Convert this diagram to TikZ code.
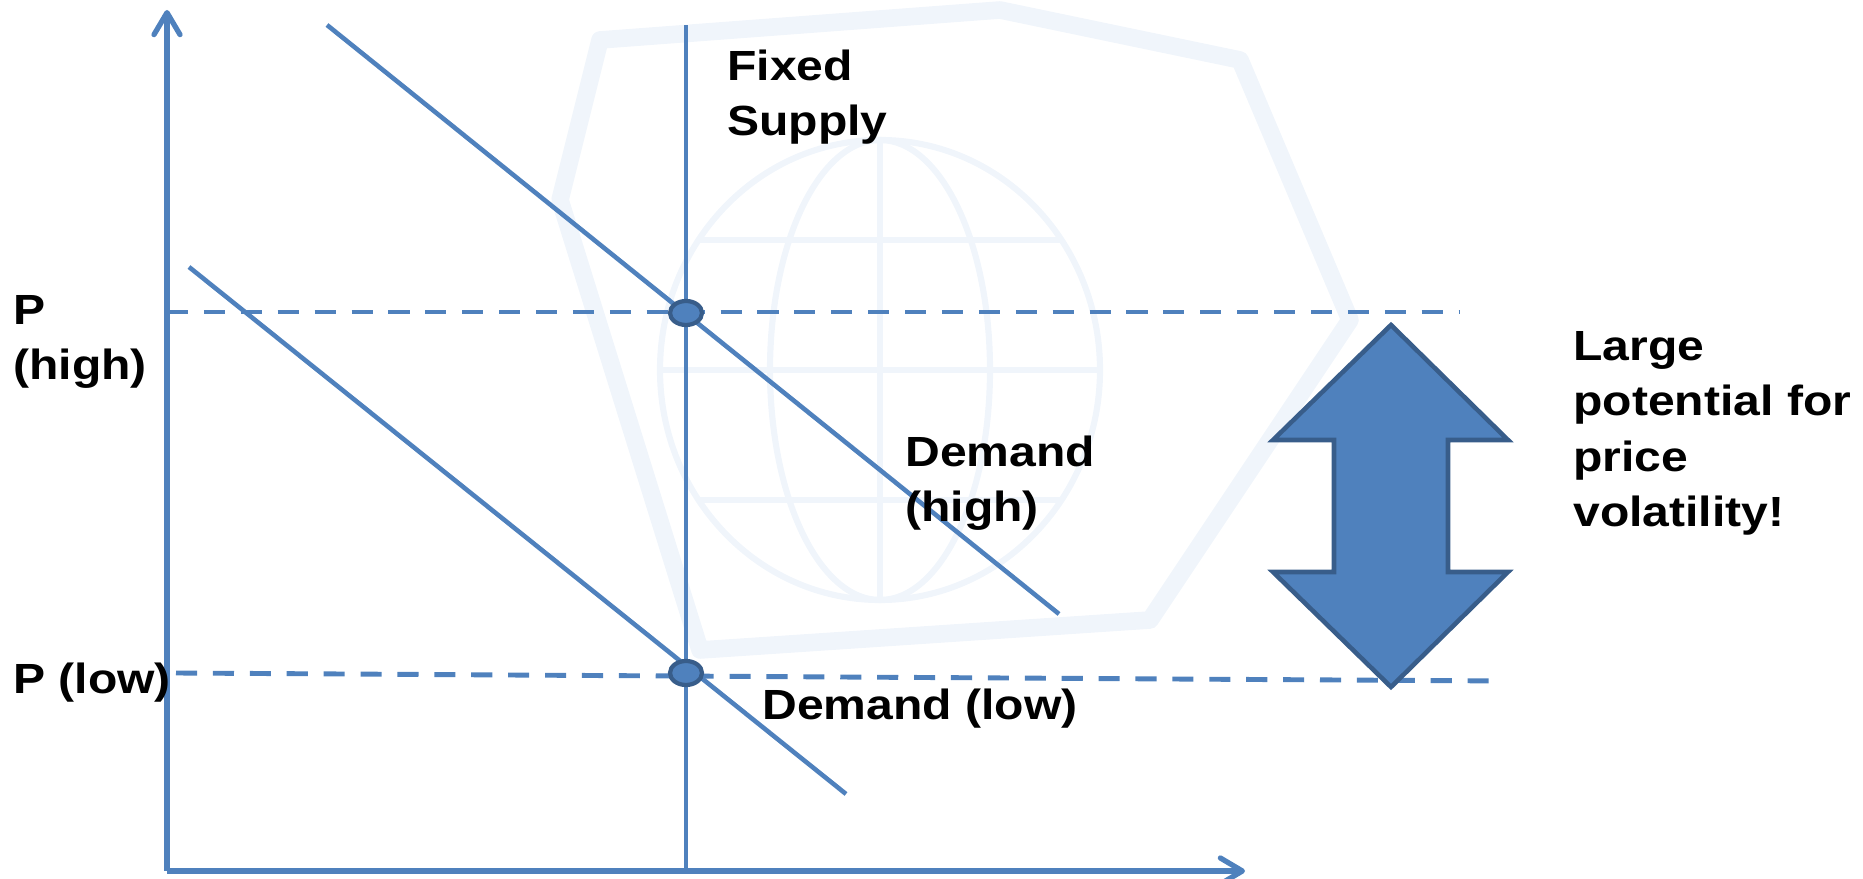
\documentclass[tikz,border=0pt]{standalone}
\usepackage{fontspec}
\setmainfont[FakeStretch=1.14]{Liberation Sans}
\usepackage{xcolor}
\usetikzlibrary{arrows.meta,shapes.geometric}
\definecolor{lineblue}{RGB}{79,129,189}
\definecolor{darkblue}{RGB}{56,93,138}
\definecolor{faint}{RGB}{240,245,251}
\tikzstyle{curve} = [lineblue, line width=2.6pt]
\tikzstyle{axis} = [lineblue, line width=3pt, -{Straight Barb[length=4.4mm,width=5.2mm,line cap=round,line join=round]}]
\tikzstyle{level} = [lineblue, line width=2.8pt, dash pattern=on 12pt off 9pt]
\tikzstyle{point} = [ellipse, draw=darkblue, fill=lineblue, line width=2.4pt, minimum width=0.64cm, minimum height=0.48cm, inner sep=0]
\tikzstyle{label} = [inner sep=0, anchor=base west, align=left, font=\fontsize{24}{31.6}\selectfont\bfseries]

\begin{document}
\begin{tikzpicture}
\useasboundingbox (0,0) rectangle (37.26,17.58);

% faint globe in the background
\draw[faint, line width=10pt, line join=round] (12.0,16.78) -- (20.0,17.38) -- (24.8,16.38) -- (27.0,11.18) -- (23.0,5.18) -- (14.0,4.58) -- (11.2,13.58) -- cycle;
\draw[faint, line width=3.5pt] (17.6,10.18) ellipse (4.4 and 4.6);
\draw[faint, line width=3.5pt] (17.6,10.18) ellipse (2.2 and 4.6);
\draw[faint, line width=3.5pt] (17.6,5.58) -- (17.6,14.78);
\begin{scope}
\clip (17.6,10.18) ellipse (4.4 and 4.6);
\foreach \y in {-2.6,0,2.6}
{
	\draw[faint, line width=3.5pt] (13,{10.18+\y}) -- (22.2,{10.18+\y});
}
\end{scope}

\coordinate (O) at (3.34,0.16);
\coordinate (ytop) at (3.34,17.38);
\coordinate (xend) at (24.90,0.16);
\coordinate (stop) at (13.72,17.08);
\coordinate (sbot) at (13.72,0.16);
\coordinate (dh1) at (6.54,17.08);
\coordinate (dh2) at (21.18,5.30);
\coordinate (dl1) at (3.78,12.24);
\coordinate (dl2) at (16.92,1.70);
\coordinate (hs) at (3.34,11.34);
\coordinate (he) at (29.18,11.34);
\coordinate (ls) at (3.52,4.12);
\coordinate (le) at (30.08,3.96);

\draw[axis] (O) -- (ytop);
\draw[axis] (O) -- (xend);
\draw[curve] (sbot) -- (stop);

\foreach \from/\to in {dh1/dh2,dl1/dl2}
{
	\draw[curve] (\from) -- (\to);
}
\draw[level] (hs) -- (he);
\draw[level] (ls) -- (le);

\node[point] (phigh) at (13.72,11.32) {};
\node[point] (plow) at (13.72,4.12) {};

% double arrow
\draw[darkblue, fill=lineblue, line width=2.6pt] (27.82,11.08) -- (30.16,8.78) -- (28.96,8.78) -- (28.96,6.14) -- (30.16,6.14) -- (27.82,3.84) -- (25.46,6.14) -- (26.68,6.14) -- (26.68,8.78) -- (25.46,8.78) -- cycle;

\node[label] (supply) at (14.54,14.86) {Fixed\\Supply};
\node[label] (phl) at (0.26,9.98) {P\\(high)};
\node[label] (pll) at (0.26,3.70) {P (low)};
\node[label] (dhl) at (18.10,7.14) {Demand\\(high)};
\node[label] (dll) at (15.24,3.18) {Demand (low)};
\node[label] (vol) at (31.46,7.04) {Large\\potential for\\price\\volatility!};

\end{tikzpicture}
\end{document}
